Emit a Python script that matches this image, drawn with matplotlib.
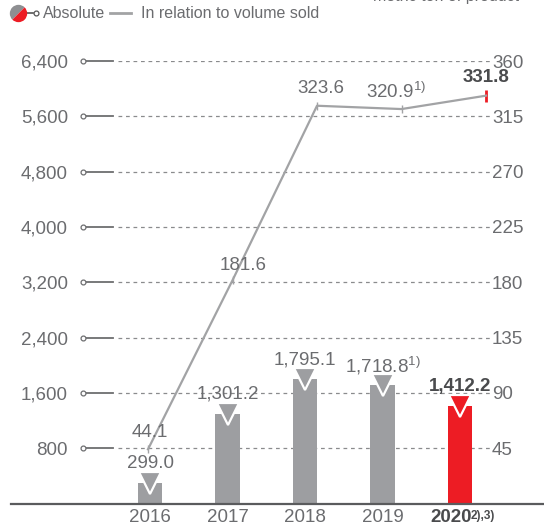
import matplotlib
matplotlib.use("Agg")
import matplotlib.pyplot as plt
import numpy as np
from matplotlib.lines import Line2D
from matplotlib.markers import MarkerStyle
from matplotlib.transforms import Affine2D, ScaledTranslation

# DATA
years = ["2016", "2017", "2018", "2019", "2020"]
year_notes = ["", "", "", "", "2),3)"]
absolute = [299.0, 1301.2, 1795.1, 1718.8, 1412.2]
absolute_labels = ["299.0", "1,301.2", "1,795.1", r"1,718.8$^{1)}$", "1,412.2"]
relative = [44.1, 181.6, 323.6, 320.9, 331.8]
relative_labels = ["44.1", "181.6", "323.6", r"320.9$^{1)}$", "331.8"]
left_ticks = [800, 1600, 2400, 3200, 4000, 4800, 5600, 6400]
right_ticks = [45, 90, 135, 180, 225, 270, 315, 360]

# STYLE
GREY_BAR = "#9d9ea1"
RED = "#ed1c24"
LINE_GREY = "#a2a3a5"
TEXT = "#6b6c6f"
DARK = "#4a4b4d"
FS = 13.5

plt.rcParams["font.family"] = ["Liberation Sans", "DejaVu Sans"]
plt.rcParams["mathtext.fontset"] = "custom"
plt.rcParams["mathtext.rm"] = "Liberation Sans"
plt.rcParams["mathtext.bf"] = "Liberation Sans:bold"

W, H = 544, 526
fig = plt.figure(figsize=(W / 100, H / 100), dpi=100)


def fx(px):
    return px / W


def fy(py):
    return 1 - py / H


# axes from px 118 to 490 horizontally, 61 to 503.5 vertically
rect = [fx(118), fy(503.5), fx(490) - fx(118), fy(61) - fy(503.5)]
ax = fig.add_axes(rect)
idx = np.arange(len(years))
ax.set_xlim(-0.413, 4.387)
ax.set_ylim(0, 6400)

colors = [GREY_BAR] * 4 + [RED]
ax.bar(idx, absolute, width=0.31, color=colors, zorder=3)
for i, (v, lab) in enumerate(zip(absolute, absolute_labels)):
    ax.plot(i, v, marker=MarkerStyle("v"), markersize=16, color=colors[i],
            markeredgecolor="white", markeredgewidth=1.6, zorder=4)
    bold = i == 4
    ax.annotate(lab, (i, v), xytext=(0, 14), textcoords="offset points",
                ha="center", va="center", fontsize=FS,
                color=DARK if bold else TEXT,
                fontweight="bold" if bold else "normal", zorder=5)

# grid & left axis
ax.set_yticks(left_ticks)
ax.set_yticklabels([f"{t:,}" for t in left_ticks])
ax.tick_params(axis="y", length=0, pad=36, labelsize=FS, labelcolor=TEXT)
ax.yaxis.grid(True, linestyle=(0, (3, 3)), color="#8a8b8d", linewidth=0.9)
ax.set_axisbelow(True)
for s in ax.spines.values():
    s.set_visible(False)

trans = ax.get_yaxis_transform()
for t in left_ticks:
    ax.plot([(86 - 118) / 372, (113 - 118) / 372], [t, t], color="#6d6e70",
            lw=1.3, transform=trans, clip_on=False)
    ax.plot((83 - 118) / 372, t, marker="o", markersize=3.5, mfc="white",
            mec="#6d6e70", mew=0.9, transform=trans, clip_on=False)

# baseline
ax.axhline(0, xmin=(11 - 118) / 372, xmax=(544 - 118) / 372, color="#5a5b5d",
           lw=1.6, clip_on=False, zorder=6)

ax.set_xticks(idx)
ax.set_xticklabels(years)
ax.tick_params(axis="x", length=0, pad=4, labelsize=FS, labelcolor=TEXT)
last = ax.get_xticklabels()[4]
last.set_color(DARK)
last.set_fontweight("bold")
last.set_transform(last.get_transform()
                   + ScaledTranslation(-0.09, 0, fig.dpi_scale_trans))
for i, note in enumerate(year_notes):
    if note:
        ax.annotate(note, (i, 0), xytext=(8, -4.5), textcoords="offset points",
                    ha="left", va="top", fontsize=8.5, fontweight="bold",
                    color=DARK, annotation_clip=False)

# relative line on an overlay axis
ax2 = fig.add_axes(rect, frameon=False)
ax2.set_xlim(-0.355, 4.047)
ax2.set_ylim(0, 360)
ax2.plot(idx, relative, color=LINE_GREY, lw=1.6, zorder=3)
ax2.plot(idx[:4], relative[:4], ls="none", marker="|", markersize=6,
         color=LINE_GREY, mew=1)
ax2.plot(idx[4], relative[4], marker="|", markersize=8, color=RED, mew=2)
rel_offsets = [(1, 12), (8, 11), (3, 12.5), (-4, 12.5), (0, 13)]
for i, (v, lab) in enumerate(zip(relative, relative_labels)):
    bold = i == 4
    ax2.annotate(lab, (i, v), xytext=rel_offsets[i], textcoords="offset points",
                 ha="center", va="center", fontsize=FS,
                 color=DARK if bold else TEXT,
                 fontweight="bold" if bold else "normal")
ax2.set_xticks([])
ax2.yaxis.tick_right()
ax2.set_yticks(right_ticks)
ax2.set_yticklabels([str(t) for t in right_ticks])
ax2.tick_params(axis="y", length=0, pad=1.5, labelsize=FS, labelcolor=TEXT)

# legend
icon = MarkerStyle("o", fillstyle="top", transform=Affine2D().rotate_deg(45))
fig.add_artist(Line2D([fx(25), fx(33)], [fy(13), fy(13)], color="#555",
                      lw=1.2, transform=fig.transFigure))
fig.add_artist(Line2D([fx(36)], [fy(13)], marker="o", markersize=3.5,
                      mfc="white", mec="#555", mew=0.9,
                      transform=fig.transFigure))
fig.add_artist(Line2D([fx(18)], [fy(13)], marker=icon, markersize=12.5,
                      markerfacecolor="#8e8f92", markerfacecoloralt=RED,
                      markeredgewidth=0, transform=fig.transFigure))
fig.text(fx(43), fy(13), "Absolute", fontsize=11.5, color=TEXT, va="center")
fig.add_artist(Line2D([fx(110), fx(131)], [fy(13), fy(13)], color=LINE_GREY,
                      lw=2, transform=fig.transFigure))
fig.text(fx(141), fy(13), "In relation to volume sold", fontsize=11.5,
         color=TEXT, va="center")
fig.text(fx(373), fy(1.5), "metric ton of product", fontsize=11.5,
         color=TEXT, va="baseline")

fig.savefig("out.png", dpi=100)
